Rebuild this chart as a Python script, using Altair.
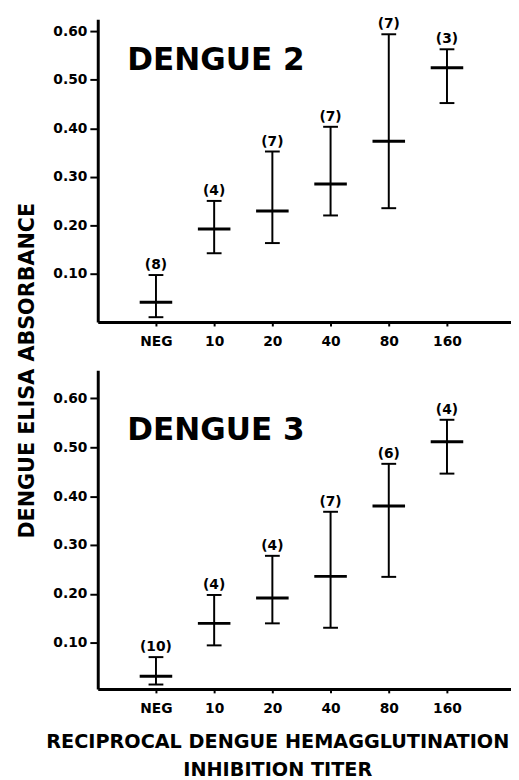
import altair as alt
import pandas as pd

titers = ["NEG", "10", "20", "40", "80", "160"]
positions = [1, 2, 3, 4, 5, 6]

d2_mean = [0.041, 0.192, 0.229, 0.285, 0.373, 0.525]
d2_hi = [0.097, 0.250, 0.352, 0.403, 0.594, 0.563]
d2_lo = [0.010, 0.142, 0.163, 0.220, 0.235, 0.452]
d2_n = ["(8)", "(4)", "(7)", "(7)", "(7)", "(3)"]

d3_mean = [0.032, 0.140, 0.192, 0.236, 0.380, 0.511]
d3_hi = [0.071, 0.198, 0.278, 0.368, 0.466, 0.556]
d3_lo = [0.015, 0.095, 0.140, 0.131, 0.235, 0.446]
d3_n = ["(10)", "(4)", "(4)", "(7)", "(6)", "(4)"]

y_ticks = [0.1, 0.2, 0.3, 0.4, 0.5, 0.6]
FONT = "DejaVu Sans"
label_expr = "['NEG','10','20','40','80','160'][datum.value - 1]"


def panel(mean, lo, hi, n, name, ydomain, height, name_y, bottom):
    df = pd.DataFrame({"pos": positions, "titer": titers, "mean": mean,
                       "lo": lo, "hi": hi, "n": n})
    if bottom:
        xaxis = alt.Axis(values=positions, labelExpr=label_expr, tickSize=4,
                         tickWidth=2, labelFontSize=14, labelPadding=9,
                         title=["RECIPROCAL DENGUE HEMAGGLUTINATION", "INHIBITION TITER"],
                         titleFontSize=19.5, titleFont=FONT, titleFontWeight="bold",
                         titleLineHeight=29, titleX=182, titlePadding=17,
                         titleColor="black")
    else:
        xaxis = alt.Axis(values=positions, labelExpr=label_expr, tickSize=4,
                         tickWidth=2, labelFontSize=14, labelPadding=9, title=None)
    x = alt.X("pos:Q", scale=alt.Scale(domain=[0, 7.1], nice=False, zero=False), axis=xaxis)
    yscale = alt.Scale(domain=ydomain, nice=False, zero=False)
    yaxis = alt.Axis(values=y_ticks, format=".2f", tickSize=8, tickWidth=2,
                     labelFontSize=14, labelPadding=3, title=None)
    base = alt.Chart(df)
    rule = base.mark_rule(color="black", strokeWidth=2).encode(
        x=x, y=alt.Y("lo:Q", scale=yscale, axis=yaxis), y2="hi:Q")
    cap_hi = base.mark_tick(orient="horizontal", size=15, thickness=2, color="black",
                            opacity=1).encode(x=x, y=alt.Y("hi:Q", scale=yscale, axis=yaxis))
    cap_lo = base.mark_tick(orient="horizontal", size=15, thickness=2, color="black",
                            opacity=1).encode(x=x, y=alt.Y("lo:Q", scale=yscale, axis=yaxis))
    mid = base.mark_tick(orient="horizontal", size=33, thickness=3, color="black",
                         opacity=1).encode(x=x, y=alt.Y("mean:Q", scale=yscale, axis=yaxis))
    counts = base.mark_text(dy=-10, fontSize=14, fontWeight="bold", font=FONT,
                            color="black").encode(
        x=x, y=alt.Y("hi:Q", scale=yscale, axis=yaxis), text="n:N")
    title = alt.Chart(pd.DataFrame({"t": [name]})).mark_text(
        align="left", baseline="alphabetic", fontSize=31.5, fontWeight="bold",
        font=FONT, color="black").encode(text="t:N", x=alt.value(30), y=alt.value(name_y))
    return alt.layer(rule, cap_hi, cap_lo, mid, counts, title).properties(
        width=419, height=height)


top = panel(d2_mean, d2_lo, d2_hi, d2_n, "DENGUE 2", [0, 0.625], 307, 51, False)
bot = panel(d3_mean, d3_lo, d3_hi, d3_n, "DENGUE 3", [0.006, 0.657], 323, 71, True)

chart = alt.vconcat(top, bot, spacing=22).properties(
    title=alt.TitleParams(text="DENGUE ELISA ABSORBANCE", orient="left", anchor="middle",
                          fontSize=21, fontWeight="bold", font=FONT, color="black",
                          offset=8, dx=28),
    padding={"left": 9, "top": 4, "right": 0, "bottom": 0},
    background="white",
).configure_axis(
    domainColor="black", domainWidth=3, tickColor="black", labelColor="black",
    grid=False, labelFont=FONT, labelFontWeight="bold",
).configure_view(strokeWidth=0)

chart.save("out.html", embed_options={"renderer": "svg", "actions": False})
